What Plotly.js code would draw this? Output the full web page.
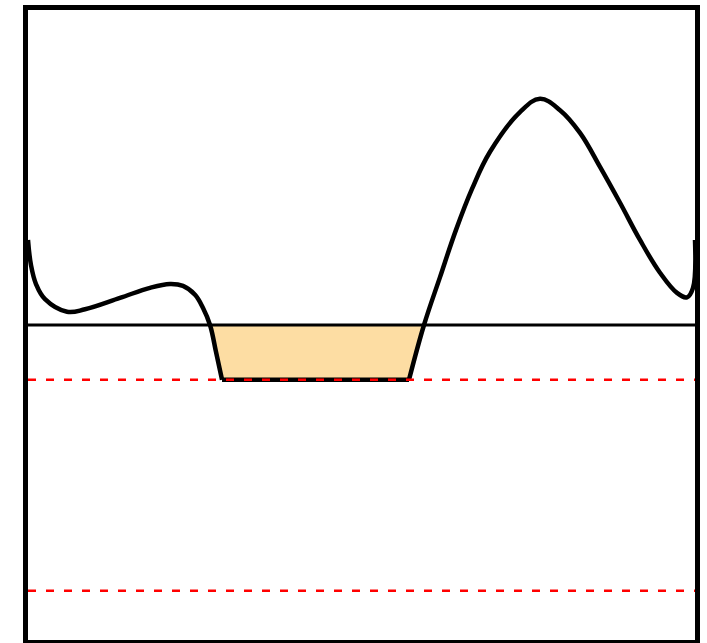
<!DOCTYPE html>
<html>
<head>
<meta charset="utf-8">
<script src="https://cdn.plot.ly/plotly-3.0.1.min.js"></script>
<style>
  html, body { margin: 0; padding: 0; background: #fff; }
  #chart { width: 707px; height: 643px; }
</style>
</head>
<body>
<div id="chart"></div>
<script>
// Curve left of the trough (descends onto the floor)
const leftX = [0, 0.045, 0.120, 0.255, 0.585, 0.855, 1.379, 1.829, 2.129, 2.324, 2.504, 2.624, 2.729, 2.819, 2.909];
const leftY = [6.35, 5.95, 5.65, 5.41, 5.21, 5.25, 5.43, 5.59, 5.65, 5.62, 5.48, 5.27, 5.00, 4.57, 4.13];

// Curve right of the trough (rises off the floor)
const rightX = [5.712, 5.937, 6.177, 6.417, 6.657, 6.927, 7.376, 7.676, 7.976, 8.276, 8.576, 8.876, 9.175, 9.475, 9.730, 9.880, 9.970, 10];
const rightY = [4.13, 5.00, 5.76, 6.51, 7.16, 7.75, 8.38, 8.59, 8.41, 8.05, 7.51, 6.94, 6.35, 5.83, 5.51, 5.44, 5.59, 6.35];

// Reference level (solid) and the two dashed limits; the curve is floored at the upper one
const baseLevel = 5.0;
const dashedLevels = [4.13, 0.78];
const floorLevel = dashedLevels[0];

const xRange = [0, 10];
const yRange = [0, 10];

// Region between the reference level and the curve where the curve dips below it
const fillX = [], fillY = [];
leftX.forEach((x, i) => { if (leftY[i] <= baseLevel) { fillX.push(x); fillY.push(leftY[i]); } });
rightX.forEach((x, i) => { if (rightY[i] <= baseLevel) { fillX.push(x); fillY.push(rightY[i]); } });
const polyX = fillX.concat([fillX[fillX.length - 1], fillX[0]]);
const polyY = fillY.concat([baseLevel, baseLevel]);

const curveLine = { color: '#000', width: 4.5, shape: 'spline', smoothing: 1.1 };

const traces = [
  {
    x: polyX, y: polyY,
    mode: 'lines', fill: 'toself',
    fillcolor: '#FDDDA3',
    line: { width: 0, color: 'rgba(0,0,0,0)' },
    hoverinfo: 'skip', showlegend: false
  },
  {
    x: xRange, y: [baseLevel, baseLevel],
    mode: 'lines',
    line: { color: '#000', width: 3 },
    hoverinfo: 'skip', showlegend: false
  },
  {
    x: leftX, y: leftY,
    mode: 'lines', line: curveLine,
    hoverinfo: 'skip', showlegend: false
  },
  {
    x: [leftX[leftX.length - 1], rightX[0]], y: [floorLevel, floorLevel],
    mode: 'lines', line: { color: '#000', width: 4.5 },
    hoverinfo: 'skip', showlegend: false
  },
  {
    x: rightX, y: rightY,
    mode: 'lines', line: curveLine,
    hoverinfo: 'skip', showlegend: false
  }
];

const shapes = dashedLevels.map(v => ({
  type: 'line', xref: 'x', yref: 'y',
  x0: xRange[0], x1: xRange[1], y0: v, y1: v,
  line: { color: '#FF0000', width: 2.5, dash: '8px,10px' },
  layer: 'above'
}));

const axisStyle = {
  showline: true, mirror: true, linecolor: '#000', linewidth: 5,
  showgrid: false, zeroline: false, showticklabels: false, ticks: ''
};

const layout = {
  width: 707, height: 643,
  margin: { l: 28, r: 12, t: 10, b: 3, pad: 0 },
  paper_bgcolor: '#fff', plot_bgcolor: '#fff',
  showlegend: false,
  xaxis: Object.assign({ range: xRange }, axisStyle),
  yaxis: Object.assign({ range: yRange }, axisStyle),
  shapes: shapes
};

Plotly.newPlot('chart', traces, layout, { staticPlot: true, displayModeBar: false });
</script>
</body>
</html>
